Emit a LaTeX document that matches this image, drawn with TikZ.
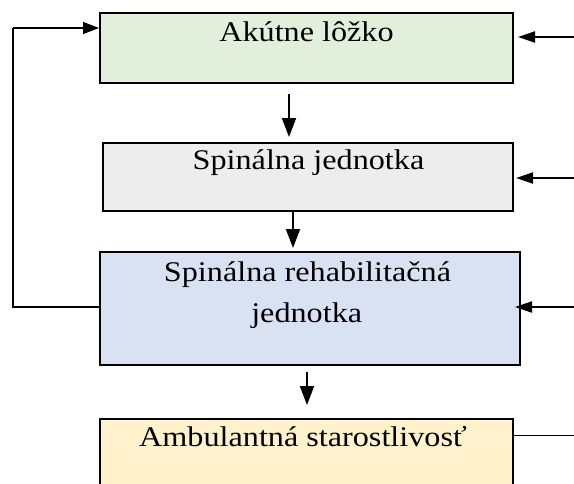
\documentclass[tikz,border=0pt]{standalone}
\usepackage{fontspec}
\setmainfont{Liberation Serif}
\newfontfamily\boxfont[FakeStretch=1.13]{Liberation Serif}
\usetikzlibrary{arrows.meta,calc}
\definecolor{cgreen}{HTML}{E2EFDA}
\definecolor{cgray}{HTML}{EDEDED}
\definecolor{cblue}{HTML}{D9E2F3}
\definecolor{cyellow}{HTML}{FFF2CC}
\begin{document}
\begin{tikzpicture}[x=1pt,y=-1pt,
  box/.style={draw=black,line width=2pt,inner sep=0pt,rectangle},
  lbl/.style={anchor=base,inner sep=0pt,font=\boxfont\fontsize{28.5}{41}\selectfont,align=center},
  arrR/.style={line width=2pt,-{Triangle[length=17pt,width=11pt]}},
  arrD/.style={line width=2pt,-{Triangle[length=19pt,width=14pt]}},
  arrL/.style={line width=1.6pt,-{Triangle[length=16pt,width=12pt]}},
  plain/.style={line width=1.4pt}]
\useasboundingbox (0,0) rectangle (574,483);
\fill[white] (0,0) rectangle (574,483);
% boxes
\node[box,fill=cgreen,minimum width=413pt,minimum height=70pt] (b1) at (306.5,48) {};
\node[box,fill=cgray,minimum width=410pt,minimum height=68pt] (b2) at (308,177) {};
\node[box,fill=cblue,minimum width=420pt,minimum height=113pt] (b3) at (310,308.5) {};
\node[box,fill=cyellow,minimum width=413pt,minimum height=81pt] (b4) at (306.5,459.5) {};
% labels
\node[lbl] (t1) at (306.5,41.7) {Akútne lôžko};
\node[lbl] (t2) at (308.5,169) {Spinálna jednotka};
\node[lbl] (t3a) at (307.5,281) {Spinálna rehabilitačná};
\node[lbl] (t3b) at (306.7,322) {jednotka};
\node[lbl] (t4) at (303,446.7) {Ambulantná starostlivosť};
% free ends
\coordinate (d1s) at (289,94);
\coordinate (d1e) at (289,137);
\coordinate (d3s) at (307,372);
\coordinate (d3e) at (307,405);
\coordinate (r1) at (574,37);
\coordinate (r2) at (574,178);
\coordinate (r3) at (574,307);
\coordinate (r4) at (574,435);
\coordinate (fl) at (13,307);
\coordinate (ft) at (13,28);
% down arrows
\draw[arrD] (d1s) -- (d1e);
\draw[arrD] (b2.south -| 293,0) -- (293,248);
\draw[arrD] (d3s) -- (d3e);
% right arrows
\draw[arrR] (r1) -- (r1 -| 518,0);
\draw[arrR] (r2) -- (r2 -| 516,0);
\draw[arrR] (r3) -- (r3 -| 515,0);
\draw[line width=1pt] (r4) -- (r4 -| b4.east);
% feedback loop
\draw[plain] (fl -| b3.west) -- (fl) -- (ft);
\draw[arrL] (ft) -- (ft -| b1.west);
\end{tikzpicture}
\end{document}
